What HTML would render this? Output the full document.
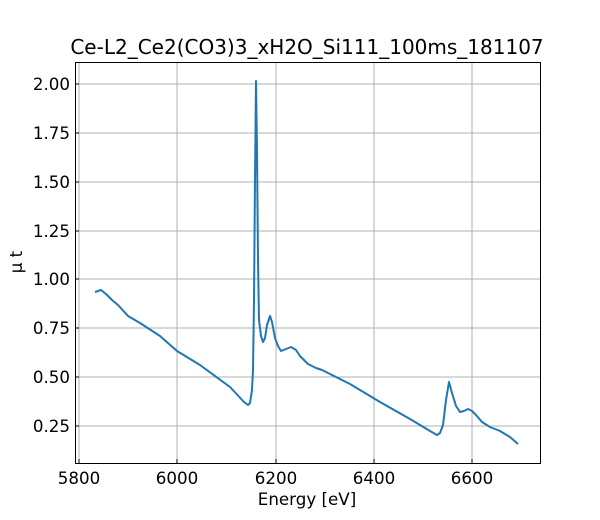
<!DOCTYPE html>
<html><head><style>body{margin:0;background:#fff}svg{display:block}</style></head><body>
<svg width="600" height="520" xmlns="http://www.w3.org/2000/svg" font-family="DejaVu Sans, Liberation Sans, sans-serif">
<rect width="600" height="520" fill="#fff"/>
<g stroke="#b0b0b0" stroke-width="1">
<line x1="79" y1="62" x2="79" y2="463"/><line x1="177" y1="62" x2="177" y2="463"/><line x1="276" y1="62" x2="276" y2="463"/><line x1="374" y1="62" x2="374" y2="463"/><line x1="472" y1="62" x2="472" y2="463"/>
<line x1="75" y1="84" x2="540" y2="84"/><line x1="75" y1="133" x2="540" y2="133"/><line x1="75" y1="182" x2="540" y2="182"/><line x1="75" y1="231" x2="540" y2="231"/><line x1="75" y1="279" x2="540" y2="279"/><line x1="75" y1="328" x2="540" y2="328"/><line x1="75" y1="377" x2="540" y2="377"/><line x1="75" y1="426" x2="540" y2="426"/>
</g>
<path fill="none" stroke="#1f77b4" stroke-width="2" stroke-linejoin="round" d="M95,292 L101,290 L106,294 L112,300 L118,305 L128,316 L140,323 L160,336 L177,351 L200,365 L230,387 L244,402 L248,405 L250,403 L252,390 L253,370 L254,300 L255,180 L256,81 L257,150 L258,260 L259,320 L261,336 L263,342 L265,338 L267,325 L270,316 L272,322 L275,338 L278,346 L281,351 L286,349 L291,347 L296,350 L300,356 L308,364 L316,368 L322,370 L350,384 L380,402 L410,419 L430,431 L437,435 L440,433 L443,425 L446,400 L449,382 L452,393 L456,406 L460,412 L464,411 L468,409 L472,411 L476,415 L482,422 L490,427 L500,431 L510,437 L518,444"/>
<rect x="75.5" y="62.5" width="465" height="401" fill="none" stroke="#000" stroke-width="1"/>
<g stroke="#000" stroke-width="1">
<line x1="79" y1="463" x2="79" y2="459"/><line x1="177" y1="463" x2="177" y2="459"/><line x1="276" y1="463" x2="276" y2="459"/><line x1="374" y1="463" x2="374" y2="459"/><line x1="472" y1="463" x2="472" y2="459"/>
<line x1="75" y1="84" x2="79" y2="84"/><line x1="75" y1="133" x2="79" y2="133"/><line x1="75" y1="182" x2="79" y2="182"/><line x1="75" y1="231" x2="79" y2="231"/><line x1="75" y1="279" x2="79" y2="279"/><line x1="75" y1="328" x2="79" y2="328"/><line x1="75" y1="377" x2="79" y2="377"/><line x1="75" y1="426" x2="79" y2="426"/>
</g>
<g font-size="16.7" text-anchor="middle">
<text x="79" y="484">5800</text><text x="177" y="484">6000</text><text x="276" y="484">6200</text><text x="374" y="484">6400</text><text x="472" y="484">6600</text>
<text x="307" y="505">Energy [eV]</text>
</g>
<g font-size="16.7" text-anchor="end">
<text x="70" y="90">2.00</text><text x="70" y="139">1.75</text><text x="70" y="188">1.50</text><text x="70" y="237">1.25</text><text x="70" y="285">1.00</text><text x="70" y="334">0.75</text><text x="70" y="383">0.50</text><text x="70" y="432">0.25</text>
</g>
<text x="22" y="262" font-size="16.7" text-anchor="middle" transform="rotate(-90 22 262)">μ t</text>
<text x="307" y="54" font-size="20" text-anchor="middle">Ce-L2_Ce2(CO3)3_xH2O_Si111_100ms_181107</text>
</svg>
</body></html>
